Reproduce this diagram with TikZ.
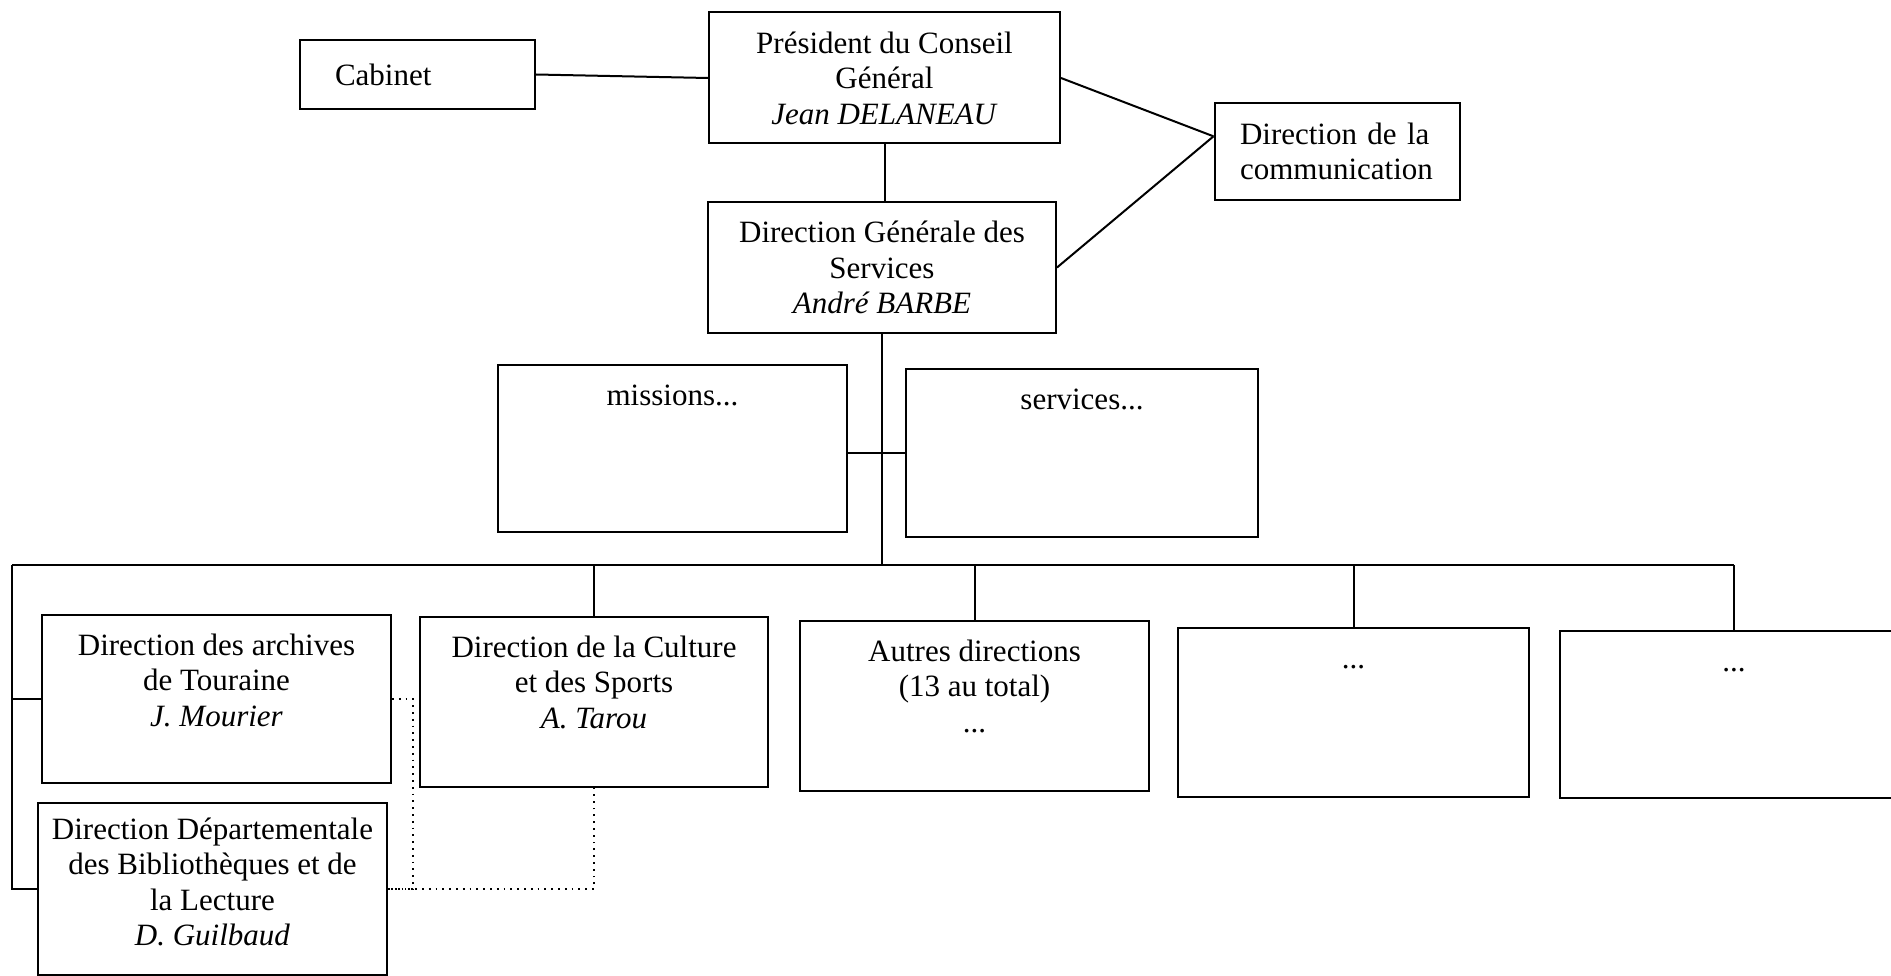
\documentclass[tikz,border=0pt]{standalone}
\usepackage{fontspec}
\setmainfont{Liberation Serif}
\usepackage{tikz}
\usetikzlibrary{positioning, calc}
\newcommand{\orgfont}{\fontsize{31}{35.5}\selectfont}
\newcommand{\unittext}[4]{\parbox[c][#2][t]{#1}{\centering\rule{0pt}{#3}#4}}
\tikzset{
  orgnode/.style={draw, line width=2pt, inner sep=0pt, font=\orgfont},
  headbox/.style={orgnode, align=center},
  unitbox/.style={orgnode},
  link/.style={line width=2pt, black},
  dotlink/.style={line width=1.8pt, black, dash pattern=on 1.8pt off 5pt}
}

\begin{document}
\begin{tikzpicture}[x=1pt, y=-1pt]
  \useasboundingbox (0,0) rectangle (1891,976);
  \clip (0,0) rectangle (1891,976);
  \node[headbox, minimum width=235pt, minimum height=69pt, text width=165pt, align=left] (cab) at (417.5,74.5) {Cabinet};
  \node[headbox, minimum width=351pt, minimum height=131pt] (pres) at (884.5,78) {Président du Conseil\\Général\\\textit{Jean DELANEAU}};
  \node[headbox, minimum width=245pt, minimum height=97pt, text width=194pt, align=left] (com) at (1337,151.5) {Direction de la\\communication};
  \node[headbox, minimum width=348pt, minimum height=131pt] (dgs) at (882,267.5) {Direction Générale des\\Services\\\textit{André BARBE}};
  \node[unitbox] (mis) at (672.5,448.5) {\unittext{349pt}{167pt}{40pt}{missions...}};
  \node[unitbox] (serv) at (1082,453) {\unittext{352pt}{168pt}{40pt}{services...}};
  \node[unitbox] (arch) at (216.5,699) {\unittext{349pt}{168pt}{40pt}{Direction des archives\\de Touraine\\\textit{J. Mourier}}};
  \node[unitbox] (ddbl) at (212.5,889) {\unittext{349pt}{172pt}{36pt}{Direction Départementale\\des Bibliothèques et de\\la Lecture\\\textit{D. Guilbaud}}};
  \node[unitbox] (cult) at (594,702) {\unittext{348pt}{170pt}{40pt}{Direction de la Culture\\et des Sports\\\textit{A. Tarou}}};
  \node[unitbox] (autres) at (974.5,706) {\unittext{349pt}{170pt}{40pt}{Autres directions\\(13 au total)\\...}};
  \node[unitbox] (dira) at (1353.5,712.5) {\unittext{351pt}{169pt}{40pt}{...}};
  \node[unitbox] (dirb) at (1734,714.5) {\unittext{348pt}{167pt}{40pt}{...}};
  \coordinate (bus) at (880,565);
  \coordinate (busl) at (12,565);
  \draw[link] (cab.east) -- (pres.west);
  \draw[link] (pres.south) -- (pres.south |- dgs.north);
  \draw[link] (pres.east) -- (com.173);
  \draw[link] (dgs.east) -- (com.173);
  \draw[link] (dgs.south) -- (dgs.south |- bus);
  \draw[link] (serv.west -| mis.east) -- (serv.west);
  \draw[link] (busl) -- (dirb.north |- bus);
  \foreach \n in {cult,autres,dira,dirb}{\draw[link] (\n.north) -- (\n.north |- bus);}
  \draw[link] (busl) |- (ddbl.west);
  \draw[link] (arch.west) -- (arch.west -| busl);
  \draw[dotlink] (arch.east) -- ++(21,0) |- (ddbl.east);
  \draw[dotlink] (ddbl.east) -| (cult.south);
\end{tikzpicture}
\end{document}
